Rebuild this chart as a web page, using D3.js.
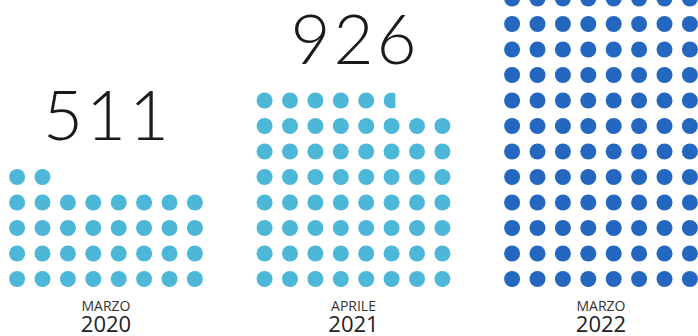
<!DOCTYPE html>
<html>
<head>
<meta charset="utf-8">
<script src="https://cdn.jsdelivr.net/npm/d3@7"></script>
<style>
  body { margin: 0; background: #fff; }
  svg { display: block; }
</style>
</head>
<body>
<div id="chart"></div>
<script>
// dati: ogni pallino = 15 unità
const months = ["MARZO", "APRILE", "MARZO"];
const years = ["2020", "2021", "2022"];
const values = [511, 926, 1755];
const colors = ["#4db7d8", "#4db7d8", "#2367c1"];
const UNIT = 15;
const COLS = 8;

const width = 698, height = 336;

const svg = d3.select("#chart")
    .append("svg")
    .attr("width", width)
    .attr("height", height);

// centro di ogni gruppo
const gx = d3.scalePoint()
    .domain(d3.range(values.length))
    .range([106, 601]);

// colonna dentro il gruppo
const cx = d3.scaleLinear()
    .domain([0, COLS - 1])
    .range([-88.9, 88.9]);

// riga (dal basso verso l'alto)
const ry = d3.scaleLinear()
    .domain([0, 1])
    .range([279, 253.5]);

const r = 8;

values.forEach((v, gi) => {
    const g = svg.append("g").attr("transform", "translate(" + gx(gi) + ",0)");
    const n = v / UNIT;
    const full = Math.floor(n);
    const frac = n - full;

    const dots = d3.range(full).map(i => ({ i, f: 1 }));
    if (frac > 0.2) dots.push({ i: full, f: frac });

    const clipId = "clip" + gi;
    g.append("defs").append("clipPath").attr("id", clipId)
        .append("rect")
        .attr("x", -r).attr("y", -r)
        .attr("width", 2 * r * (dots.length ? dots[dots.length - 1].f : 1))
        .attr("height", 2 * r);

    g.selectAll(".dot")
        .data(dots)
        .enter()
        .append("circle")
        .attr("class", "dot")
        .attr("transform", d => "translate(" + cx(d.i % COLS) + "," + ry(Math.floor(d.i / COLS)) + ")")
        .attr("r", r)
        .attr("fill", colors[gi])
        .attr("clip-path", d => d.f < 1 ? "url(#" + clipId + ")" : null);

    const topRow = Math.floor((dots.length - 1) / COLS);
    g.append("text")
        .attr("x", 1.5)
        .attr("y", ry(topRow) - 37)
        .attr("text-anchor", "middle")
        .style("font-family", "Lato, sans-serif")
        .style("font-weight", 300)
        .style("font-size", "69px")
        .style("letter-spacing", "3px")
        .style("fill", "#1a1a1a")
        .text(v);

    g.append("text")
        .attr("x", 0)
        .attr("y", 311)
        .attr("text-anchor", "middle")
        .style("font-family", "'Open Sans', sans-serif")
        .style("font-weight", 500)
        .style("font-size", "14px")
        .style("fill", "#333")
        .text(months[gi]);

    g.append("text")
        .attr("x", 0)
        .attr("y", 332)
        .attr("text-anchor", "middle")
        .style("font-family", "'Open Sans', sans-serif")
        .style("font-weight", 500)
        .style("font-size", "22px")
        .style("fill", "#222")
        .text(years[gi]);
});
</script>
</body>
</html>
